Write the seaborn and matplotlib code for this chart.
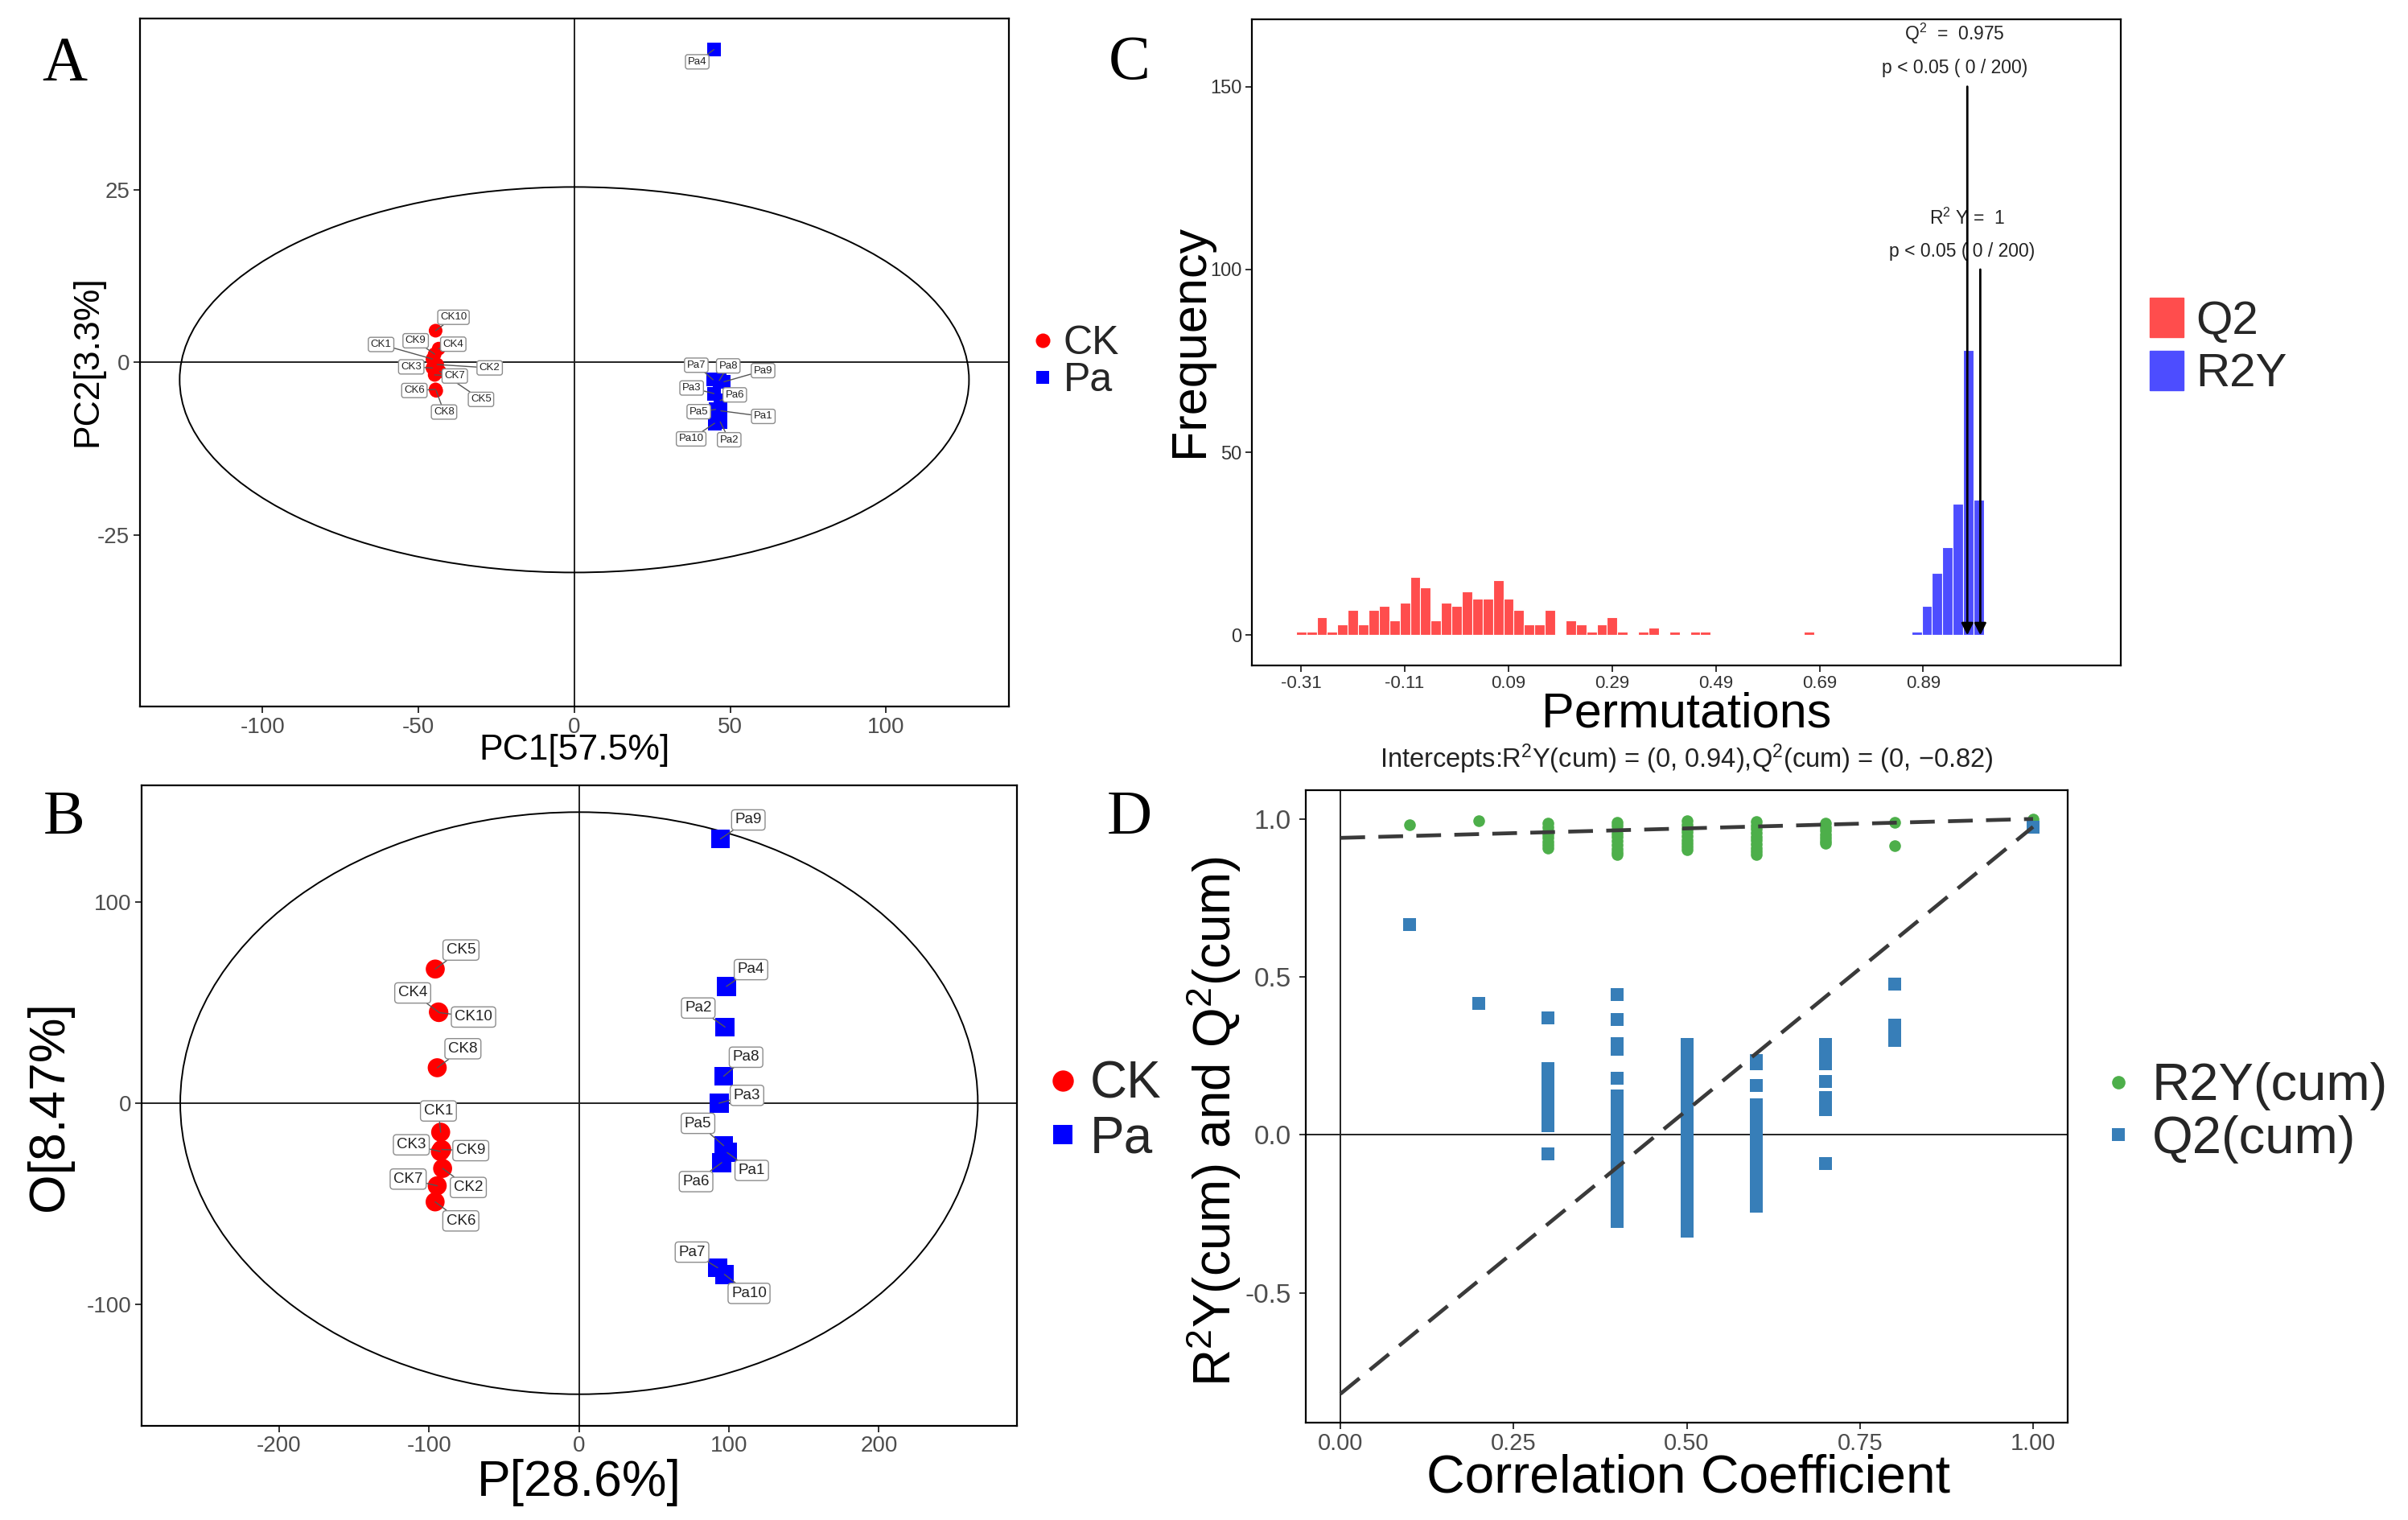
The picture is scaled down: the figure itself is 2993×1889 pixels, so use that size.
import numpy as np
import pandas as pd
import matplotlib
matplotlib.use("Agg")
import matplotlib.pyplot as plt
import seaborn as sns
from matplotlib.patches import Ellipse, Patch
from matplotlib.lines import Line2D

# ===================== DATA =====================
sample_names = ["CK1", "CK2", "CK3", "CK4", "CK5", "CK6", "CK7", "CK8", "CK9", "CK10",
                "Pa1", "Pa2", "Pa3", "Pa4", "Pa5", "Pa6", "Pa7", "Pa8", "Pa9", "Pa10"]
sample_groups = ["CK"] * 10 + ["Pa"] * 10

# Panel A : PCA scores
pca_pc1 = [-45.5, -44.0, -45.5, -43.5, -43.2, -44.5, -44.8, -44.3, -44.8, -44.5,
           47.0, 46.8, 44.8, 44.8, 45.3, 46.8, 44.5, 46.5, 48.0, 45.0]
pca_pc2 = [0.5, -0.3, -0.8, 2.0, -1.3, -3.9, -1.8, -4.1, 1.2, 4.6,
           -7.0, -8.6, -4.5, 45.3, -6.8, -5.5, -2.5, -2.6, -2.8, -8.8]
pca_xlabel, pca_ylabel = "PC1[57.5%]", "PC2[3.3%]"
pca_ellipse_center = (0.0, -2.5)
pca_ellipse_semi_axes = (126.6, 27.9)

# Panel B : OPLS-DA scores
opls_p = [-92.3, -91.0, -92.5, -93.8, -95.9, -96.0, -94.6, -94.6, -91.6, -93.5,
          98.8, 97.4, 93.4, 98.3, 96.5, 95.2, 92.5, 96.5, 94.3, 97.0]
opls_o = [-14.4, -32.4, -24.0, 45.3, 66.6, -49.0, -41.0, 17.6, -23.0, 45.0,
          -24.5, 37.8, 0.0, 58.0, -21.1, -29.5, -81.7, 13.4, 131.2, -85.0]
opls_xlabel, opls_ylabel = "P[28.6%]", "O[8.47%]"
opls_ellipse_center = (0.0, 0.0)
opls_ellipse_semi_axes = (266.0, 144.5)

# Panel C : permutation histogram (bin centres, counts)
q2_perm_centers = [-0.31, -0.29, -0.27, -0.25, -0.23, -0.21, -0.19, -0.17, -0.15, -0.13,
                   -0.11, -0.09, -0.07, -0.05, -0.03, -0.01, 0.01, 0.03, 0.05, 0.07,
                   0.09, 0.11, 0.13, 0.15, 0.17, 0.21, 0.23, 0.25, 0.27, 0.29,
                   0.31, 0.35, 0.37, 0.41, 0.45, 0.47, 0.67]
q2_perm_counts = [1, 1, 5, 1, 3, 7, 3, 7, 8, 4,
                  9, 16, 13, 4, 9, 8, 12, 10, 10, 15,
                  10, 7, 3, 3, 7, 4, 3, 1, 3, 5,
                  1, 1, 2, 1, 1, 1, 1]
r2y_perm_centers = [0.877, 0.897, 0.917, 0.937, 0.957, 0.977, 0.997]
r2y_perm_counts = [1, 8, 17, 24, 36, 78, 37]
q2_observed = 0.975
r2y_observed = 1.0
perm_ticks = [-0.31, -0.11, 0.09, 0.29, 0.49, 0.69, 0.89]
perm_tick_labels = ["-0.31", "-0.11", "0.09", "0.29", "0.49", "0.69", "0.89"]

# Panel D : permutation validation
corr_levels = [0.1, 0.2, 0.3, 0.4, 0.5, 0.6, 0.7, 0.8, 1.0]
r2y_cum = [
    [0.981],
    [0.993],
    [0.986, 0.975, 0.962, 0.950, 0.940, 0.928, 0.918, 0.907],
    [0.990, 0.978, 0.966, 0.954, 0.942, 0.930, 0.918, 0.906, 0.895, 0.886],
    [0.994, 0.982, 0.970, 0.958, 0.946, 0.934, 0.922, 0.912, 0.903],
    [0.992, 0.980, 0.968, 0.956, 0.944, 0.932, 0.920, 0.908, 0.897, 0.888],
    [0.987, 0.975, 0.963, 0.951, 0.940, 0.930, 0.922],
    [0.989, 0.915],
    [1.0],
]
q2_cum = [
    [0.666],
    [0.415],
    [0.369, 0.21, 0.19, 0.17, 0.15, 0.13, 0.11, 0.09, 0.07, 0.05, 0.03, -0.061],
    [0.444, 0.365, 0.289, 0.27, 0.179, 0.122, 0.10, 0.08, 0.06, 0.04, 0.02, 0.00,
     -0.02, -0.04, -0.06, -0.08, -0.10, -0.12, -0.14, -0.16, -0.18, -0.20, -0.22,
     -0.24, -0.26, -0.273],
    [0.285, 0.265, 0.245, 0.225, 0.205, 0.185, 0.165, 0.145, 0.125, 0.105, 0.085,
     0.065, 0.045, 0.025, 0.005, -0.015, -0.035, -0.055, -0.075, -0.095, -0.115,
     -0.135, -0.155, -0.175, -0.195, -0.215, -0.235, -0.255, -0.275, -0.295, -0.306],
    [0.236, 0.226, 0.155, 0.095, 0.075, 0.055, 0.035, 0.015, -0.005, -0.025, -0.045,
     -0.065, -0.085, -0.105, -0.125, -0.145, -0.165, -0.185, -0.205, -0.226],
    [0.285, 0.265, 0.245, 0.226, 0.169, 0.118, 0.100, 0.081, -0.09],
    [0.476, 0.348, 0.328, 0.30],
    [0.975],
]
r2y_intercept = 0.94
q2_intercept = -0.82

# ===================== LAYOUT / STYLE =====================
label_offsets_A = {
    "CK1": (-46, 13), "CK2": (47, -3), "CK3": (-19, 1), "CK4": (13, 4), "CK5": (37, -25),
    "CK6": (-19, -1), "CK7": (18, -1), "CK8": (7, -19), "CK9": (-17, 12), "CK10": (16, 12),
    "Pa1": (38, -5), "Pa2": (8, -16), "Pa3": (-20, 5), "Pa4": (-15, -11), "Pa5": (-15, -2),
    "Pa6": (13, 5), "Pa7": (-15, 13), "Pa8": (8, 13), "Pa9": (35, 10), "Pa10": (-21, -14),
}
label_offsets_B = {
    "CK1": (-2, 19), "CK2": (23, -17), "CK3": (-26, 6), "CK4": (-23, 17), "CK5": (23, 17),
    "CK6": (23, -17), "CK7": (-26, 6), "CK8": (23, 17), "CK9": (26, -1), "CK10": (31, -4),
    "Pa1": (22, -16), "Pa2": (-24, 17), "Pa3": (25, 7), "Pa4": (22, 15), "Pa5": (-23, 20),
    "Pa6": (-23, -17), "Pa7": (-23, 14), "Pa8": (20, 17), "Pa9": (25, 17), "Pa10": (22, -17),
}

sns.set_theme(style="ticks")
plt.rcParams["font.family"] = ["Liberation Sans", "DejaVu Sans"]
plt.rcParams["mathtext.fontset"] = "custom"
plt.rcParams["mathtext.rm"] = "Liberation Sans"
plt.rcParams["mathtext.it"] = "Liberation Sans:italic"
plt.rcParams["mathtext.bf"] = "Liberation Sans:bold"
plt.rcParams["axes.unicode_minus"] = False

W, H = 2993, 1889
fig = plt.figure(figsize=(W / 100, H / 100), dpi=100)
fig.patch.set_facecolor("white")


def add_axes_px(left, top, right, bottom):
    return fig.add_axes([left / W, 1 - bottom / H, (right - left) / W, (bottom - top) / H])


def style_frame(ax, tick_size, tick_color="#4D4D4D"):
    for s in ax.spines.values():
        s.set_visible(True)
        s.set_color("black")
        s.set_linewidth(1.6)
    ax.tick_params(axis="both", direction="out", length=6, width=1.4, color="#333333",
                   labelsize=tick_size, labelcolor=tick_color, pad=3)
    ax.grid(False)
    ax.set_facecolor("white")


def place_label(axis, text, x, y, size, rotation=0):
    lab = axis.label
    axis.set_label_text(text, fontsize=size, color="black")
    axis.set_label_coords(x, y)
    lab.set_va("center")
    lab.set_ha("center")
    lab.set_rotation(rotation)


axA = add_axes_px(173.7, 22.9, 1254.0, 878.0)
axC = add_axes_px(1556, 24, 2636, 826.7)
axB = add_axes_px(175.6, 975.5, 1263.8, 1771.5)
axD = add_axes_px(1623, 982, 2570, 1768)

pal = {"CK": "#FF0000", "Pa": "#0000FF"}
mk = {"CK": "o", "Pa": "s"}


def score_panel(ax, xs, ys, ell_c, ell_ax, offsets, pt_size, lab_size, lab_pad):
    df = pd.DataFrame({"sample": sample_names, "group": sample_groups, "x": xs, "y": ys})
    ax.axhline(0, color="#222222", lw=1.4, zorder=1)
    ax.axvline(0, color="#222222", lw=1.4, zorder=1)
    ax.add_patch(Ellipse(ell_c, 2 * ell_ax[0], 2 * ell_ax[1], fill=False,
                         ec="black", lw=1.4, zorder=1))
    sns.scatterplot(data=df, x="x", y="y", hue="group", style="group", palette=pal,
                    markers=mk, s=pt_size, linewidth=0, legend=False, ax=ax, zorder=3)
    for name, x, y in zip(df["sample"], df["x"], df["y"]):
        ax.annotate(name, xy=(x, y), xytext=offsets[name], textcoords="offset points",
                    ha="center", va="center", fontsize=lab_size, color="#222222", zorder=5,
                    bbox=dict(boxstyle=f"round,pad={lab_pad}", fc="white", ec="#8C8C8C", lw=1.0),
                    arrowprops=dict(arrowstyle="-", color="#555555", lw=1.0,
                                    shrinkA=0, shrinkB=0))


# ---------- Panel A ----------
score_panel(axA, pca_pc1, pca_pc2, pca_ellipse_center, pca_ellipse_semi_axes,
            label_offsets_A, 150, 9.5, 0.22)
axA.set_xlim(-139.4, 139.4)
axA.set_ylim(-49.8, 49.8)
axA.set_xticks([-100, -50, 0, 50, 100])
axA.set_yticks([-25, 0, 25])
style_frame(axA, 20)
place_label(axA.xaxis, pca_xlabel, 0.5, -0.064, 32)
place_label(axA.yaxis, pca_ylabel, -0.060, 0.502, 32, rotation=90)
hA = [Line2D([], [], marker="o", ls="", color=pal["CK"], markersize=13, markeredgewidth=0),
      Line2D([], [], marker="s", ls="", color=pal["Pa"], markersize=12, markeredgewidth=0)]
fig.legend(hA, ["CK", "Pa"], loc="center left", bbox_to_anchor=(1283.5 / W, 1 - 450 / H),
           frameon=False, fontsize=36, handlelength=0.5, handletextpad=0.26,
           labelspacing=0.0, borderpad=0, borderaxespad=0)

# ---------- Panel B ----------
score_panel(axB, opls_p, opls_o, opls_ellipse_center, opls_ellipse_semi_axes,
            label_offsets_B, 290, 13.5, 0.22)
axB.set_xlim(-292, 292)
axB.set_ylim(-160, 158)
axB.set_xticks([-200, -100, 0, 100, 200])
axB.set_yticks([-100, 0, 100])
style_frame(axB, 20)
place_label(axB.xaxis, opls_xlabel, 0.5, -0.0886, 45)
place_label(axB.yaxis, opls_ylabel, -0.105, 0.499, 45, rotation=90)
hB = [Line2D([], [], marker="o", ls="", color=pal["CK"], markersize=19, markeredgewidth=0),
      Line2D([], [], marker="s", ls="", color=pal["Pa"], markersize=17, markeredgewidth=0)]
fig.legend(hB, ["CK", "Pa"], loc="center left", bbox_to_anchor=(1305 / W, 1 - 1381.5 / H),
           frameon=False, fontsize=46, handlelength=0.5, handletextpad=0.28,
           labelspacing=0.11, borderpad=0, borderaxespad=0)

# ---------- Panel C ----------
q2_color, r2y_color = "#FF4D4D", "#4D4DFF"
sns.histplot(x=q2_perm_centers, weights=q2_perm_counts, binwidth=0.02, binrange=(-0.32, 0.68),
             color=q2_color, alpha=1, edgecolor="white", linewidth=0.8, ax=axC)
sns.histplot(x=r2y_perm_centers, weights=r2y_perm_counts, binwidth=0.02,
             binrange=(0.867, 1.007), color=r2y_color, alpha=1, edgecolor="white",
             linewidth=0.8, ax=axC)
for xv, top in [(q2_observed, 150), (r2y_observed, 100)]:
    axC.annotate("", xy=(xv, 0), xytext=(xv, top),
                 arrowprops=dict(arrowstyle="-|>", color="black", lw=2.0, mutation_scale=22,
                                 shrinkA=0, shrinkB=0), zorder=6)
ann_size = 16.5
axC.text(0.951, 164.5, r"Q$^2$  =  " + f"{q2_observed:.3f}", ha="center", va="center",
         fontsize=ann_size, color="#222222")
axC.text(0.951, 155, f"p < 0.05 ( 0 / {sum(r2y_perm_counts) - 1})", ha="center",
         va="center", fontsize=ann_size, color="#222222")
axC.text(0.975, 114, r"R$^2$ Y =  " + f"{r2y_observed:g}", ha="center", va="center",
         fontsize=ann_size, color="#222222")
axC.text(0.964, 105, f"p < 0.05 ( 0 / {sum(r2y_perm_counts) - 1})", ha="center",
         va="center", fontsize=ann_size, color="#222222")
axC.set_xlim(-0.405, 1.271)
axC.set_ylim(-8.2, 168.4)
axC.set_xticks(perm_ticks)
axC.set_xticklabels(perm_tick_labels)
axC.set_yticks([0, 50, 100, 150])
style_frame(axC, 16, tick_color="#333333")
axC.tick_params(axis="y", labelsize=17)
place_label(axC.xaxis, "Permutations", 0.5, -0.076, 44)
place_label(axC.yaxis, "Frequency", -0.0708, 0.502, 44, rotation=90)
hC = [Patch(color=q2_color), Patch(color=r2y_color)]
fig.legend(hC, ["Q2", "R2Y"], loc="center left", bbox_to_anchor=(2672 / W, 1 - 431.5 / H),
           frameon=False, fontsize=42, handlelength=0.72, handleheight=0.9,
           handletextpad=0.27, labelspacing=0.16, borderpad=0, borderaxespad=0)

# ---------- Panel D ----------
green, blue = "#4DAF4A", "#377EB8"
df_r2y = pd.DataFrame({"corr": [c for c, vals in zip(corr_levels, r2y_cum) for _ in vals],
                       "value": [v for vals in r2y_cum for v in vals]})
df_q2 = pd.DataFrame({"corr": [c for c, vals in zip(corr_levels, q2_cum) for _ in vals],
                      "value": [v for vals in q2_cum for v in vals]})
axD.axhline(0, color="#222222", lw=1.4, zorder=1)
axD.axvline(0, color="#222222", lw=1.4, zorder=1)
sns.scatterplot(data=df_r2y, x="corr", y="value", color=green, marker="o", s=110,
                linewidth=0, ax=axD, zorder=3)
sns.scatterplot(data=df_q2, x="corr", y="value", color=blue, marker="s", s=117,
                linewidth=0, ax=axD, zorder=3)
axD.plot([0, 1], [r2y_intercept, r2y_observed], ls=(0, (6.5, 3.5)), color="#3A3A3A", lw=3.4, zorder=4)
axD.plot([0, 1], [q2_intercept, q2_observed], ls=(0, (6.5, 3.5)), color="#3A3A3A", lw=3.4, zorder=4)
axD.set_xlim(-0.05, 1.05)
axD.set_ylim(-0.911, 1.091)
axD.set_xticks([0, 0.25, 0.5, 0.75, 1.0])
axD.set_xticklabels(["0.00", "0.25", "0.50", "0.75", "1.00"])
axD.set_yticks([-0.5, 0.0, 0.5, 1.0])
axD.set_yticklabels(["-0.5", "0.0", "0.5", "1.0"])
style_frame(axD, 21)
axD.tick_params(axis="y", labelsize=24, pad=7)
place_label(axD.xaxis, "Correlation Coefficient", 0.5016, -0.089, 47.5)
place_label(axD.yaxis, r"R$^2$Y(cum) and Q$^2$(cum)", -0.1214, 0.476, 46, rotation=90)
axD.text(0.5, 1.0496,
         r"Intercepts:R$^2$Y(cum) = (0, " + f"{r2y_intercept:.2f}" + r"),Q$^2$(cum) = (0, "
         + f"\u2212{abs(q2_intercept):.2f})",
         transform=axD.transAxes, ha="center", va="center", fontsize=23.5, color="#222222")
hD = [Line2D([], [], marker="o", ls="", color=green, markersize=12, markeredgewidth=0),
      Line2D([], [], marker="s", ls="", color=blue, markersize=11, markeredgewidth=0)]
fig.legend(hD, ["R2Y(cum)", "Q2(cum)"], loc="center left",
           bbox_to_anchor=(2616.7 / W, 1 - 1383 / H), frameon=False, fontsize=47,
           handlelength=0.5, handletextpad=0.39, labelspacing=0.08, borderpad=0,
           borderaxespad=0)

# ---------- panel letters ----------
for letter, (px, py) in {"A": (80, 80), "C": (1404, 79), "B": (80, 1017), "D": (1404, 1017)}.items():
    fig.text(px / W, 1 - py / H, letter, family=["Liberation Serif", "DejaVu Serif"],
             fontsize=56, ha="center", va="center", color="black")

fig.savefig("out.png", dpi=100, facecolor="white")
